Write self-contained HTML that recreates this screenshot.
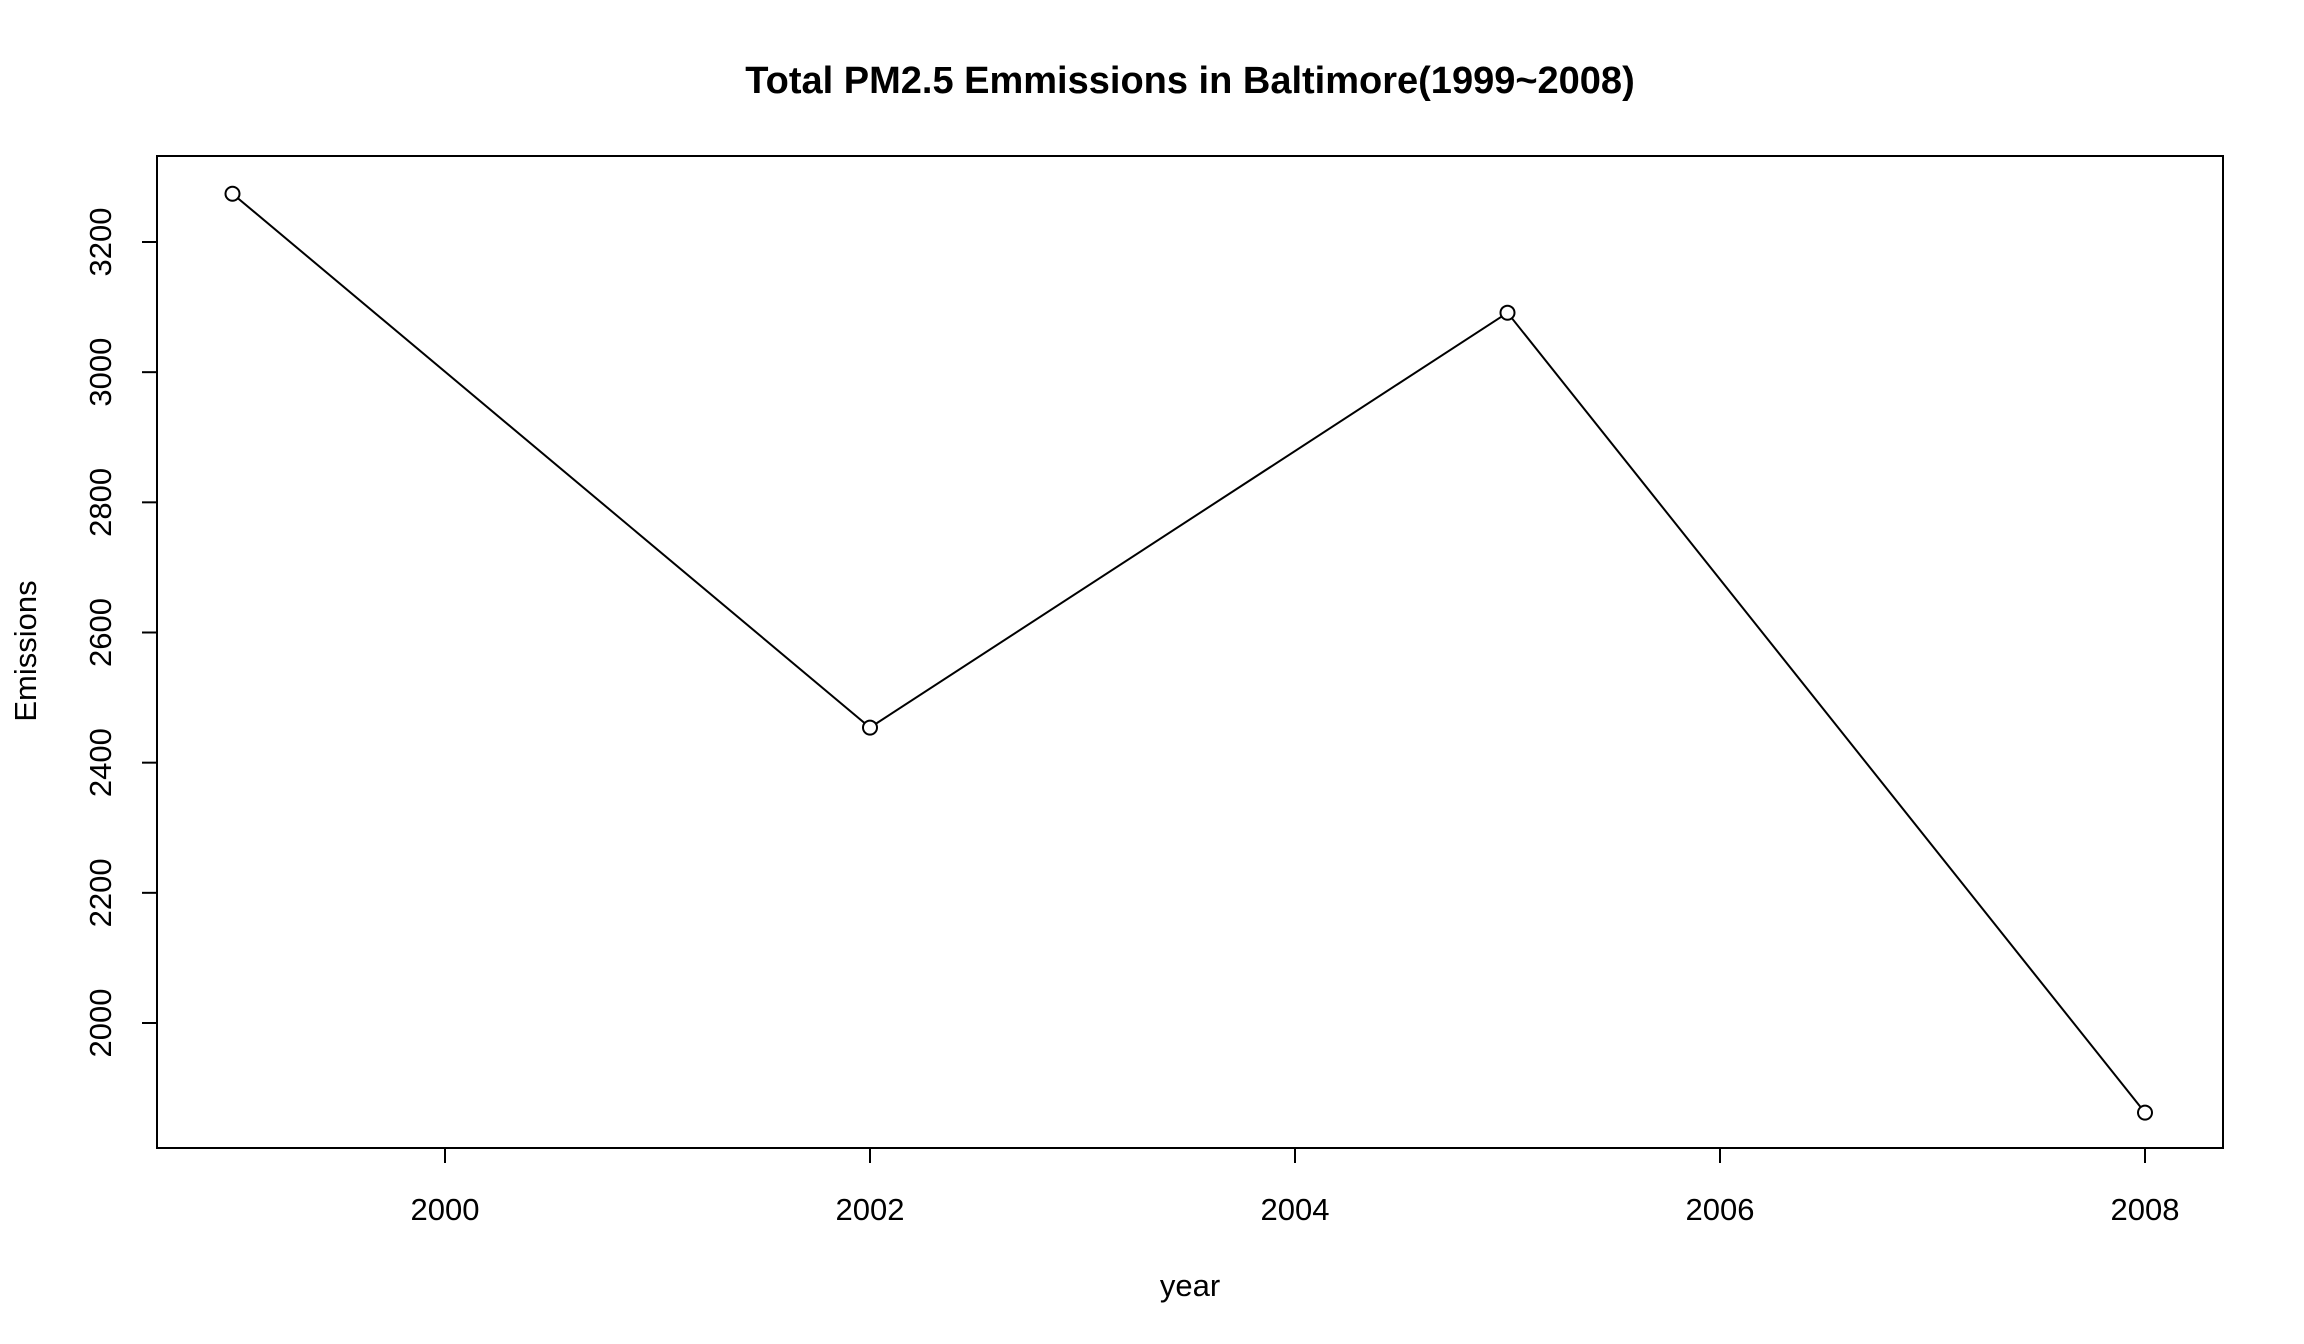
<!DOCTYPE html>
<html><head><meta charset="utf-8"><style>
html,body{margin:0;padding:0;background:#fff;}
svg{display:block;font-family:"Liberation Sans",Arial,sans-serif;}
</style></head><body>
<svg id="chart" width="2304" height="1344" viewBox="0 0 2304 1344" xmlns="http://www.w3.org/2000/svg">
<rect width="2304" height="1344" fill="#fff"/>
<text x="1190" y="93" text-anchor="middle" font-size="38" font-weight="bold">Total PM2.5 Emmissions in Baltimore(1999~2008)</text>
<text x="1190" y="1296" text-anchor="middle" font-size="31">year</text>
<text transform="translate(36,651) rotate(-90)" text-anchor="middle" font-size="31">Emissions</text>
<rect x="157" y="156" width="2066" height="992" fill="none" stroke="#000" stroke-width="2"/>
<g id="g"></g>
</svg>
<script>
const years=[1999,2002,2005,2008];
const emissions=[3274.18,2453.9,3091.35,1862.28];
const xTicks=[2000,2002,2004,2006,2008];
const yTicks=[2000,2200,2400,2600,2800,3000,3200];
const NS="http://www.w3.org/2000/svg";
const g=document.getElementById('g');
function sx(v){return 445+(v-2000)*(2145-445)/8;}
function sy(v){return 1023-(v-2000)*(1023-242)/1200;}
function el(t,a){const e=document.createElementNS(NS,t);for(const k in a)e.setAttribute(k,a[k]);g.appendChild(e);return e;}
let l=el('line',{x1:sx(xTicks[0]),x2:sx(xTicks[xTicks.length-1]),y1:1148,y2:1148,stroke:'#000','stroke-width':2});


xTicks.forEach(t=>{
 const k=el('line',{x1:sx(t),x2:sx(t),y1:1148,y2:1163,stroke:'#000','stroke-width':2});
 
 
 const tx=el('text',{x:sx(t),y:1220,'text-anchor':'middle','font-size':31});
 tx.textContent=t;
 
 
});
yTicks.forEach(t=>{
 const k=el('line',{x1:142,x2:157,y1:sy(t),y2:sy(t),stroke:'#000','stroke-width':2});
 
 
 const tx=el('text',{transform:`translate(111,${sy(t)}) rotate(-90)`,'text-anchor':'middle','font-size':31});
 tx.textContent=t;
 
 
});
const pts=years.map((y,i)=>[sx(y),sy(emissions[i])]);
const r=7;
for(let i=0;i<pts.length-1;i++){
 const [x1,y1]=pts[i],[x2,y2]=pts[i+1];
 const d=Math.hypot(x2-x1,y2-y1),ux=(x2-x1)/d,uy=(y2-y1)/d;
 const s=el('line',{x1:x1+ux*r,y1:y1+uy*r,x2:x2-ux*r,y2:y2-uy*r,stroke:'#000','stroke-width':2});
 
 
}
pts.forEach(p=>{
 const c=el('circle',{cx:p[0],cy:p[1],r:r,fill:'none',stroke:'#000','stroke-width':2});
 
 
});
</script>
</body></html>
